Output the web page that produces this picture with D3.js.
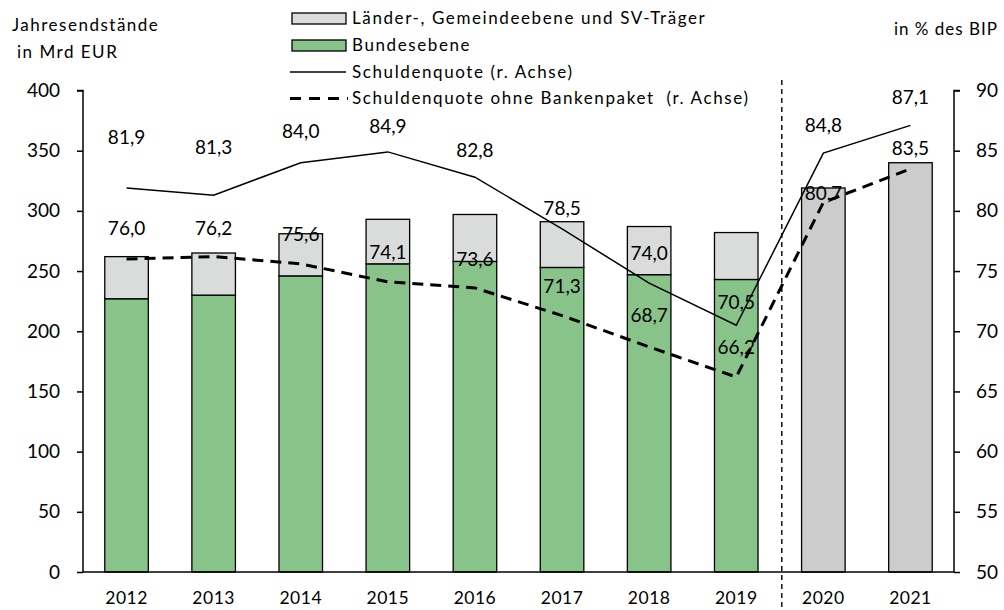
<!DOCTYPE html>
<html>
<head>
<meta charset="utf-8">
<script src="https://cdn.jsdelivr.net/npm/d3@7"></script>
<style>
  body { margin: 0; background: #fff; }
  svg text { font-family: Lato, "Open Sans", sans-serif; fill: #000; }
</style>
</head>
<body>
<div id="chart"></div>
<script>
// --- data ---
const years = ["2012", "2013", "2014", "2015", "2016", "2017", "2018", "2019", "2020", "2021"];
// Bundesebene (Mrd EUR), only up to 2019
const bund = [227, 230, 246, 256, 258, 253, 247, 243, null, null];
// Länder-, Gemeindeebene und SV-Träger (Mrd EUR)
const laender = [35, 35, 35, 37, 39, 38, 40, 39, null, null];
// total for the forecast years (grey bars)
const gesamtPrognose = [null, null, null, null, null, null, null, null, 319, 340];
// Schuldenquote (% des BIP)
const quote = [81.9, 81.3, 84.0, 84.9, 82.8, 78.5, 74.0, 70.5, 84.8, 87.1];
const quoteOhne = [76.0, 76.2, 75.6, 74.1, 73.6, 71.3, 68.7, 66.2, 80.7, 83.5];
const leftTicks = [0, 50, 100, 150, 200, 250, 300, 350, 400];
const rightTicks = [50, 55, 60, 65, 70, 75, 80, 85, 90];
const legendItems = [
  "Länder-, Gemeindeebene und SV-Träger",
  "Bundesebene",
  "Schuldenquote (r. Achse)",
  "Schuldenquote ohne Bankenpaket \u00a0(r. Achse)"
];

// label lift above the point, in px (layout only)
const quoteLift = [51, 48, 31, 26, 27, 21, 30, 23, 28, 28];
const ohneLift = [31, 28, 29, 30, 29, 29, 32, 30, 9, 20];

const width = 1004, height = 610;
const plot = { left: 83, right: 954, top: 90.5, bottom: 572 };
const col = { green: "#88c48a", light: "#d9dcdb", grey: "#cccccc" };

const svg = d3.select("#chart").append("svg")
  .attr("width", width).attr("height", height);

const x = d3.scaleBand().domain(years)
  .range([plot.left, plot.right]).paddingInner(0.5).paddingOuter(0.25);
const yL = d3.scaleLinear().domain([0, 400]).range([plot.bottom, plot.top]);
const yR = d3.scaleLinear().domain([50, 90]).range([plot.bottom, plot.top]);
const cx = d => x(d) + x.bandwidth() / 2;

// bars
const rows = years.map((y, i) => ({ year: y, bund: bund[i], laender: laender[i], prog: gesamtPrognose[i] }));
const bars = svg.append("g");
rows.filter(d => d.bund != null).forEach(d => {
  bars.append("rect")
    .attr("x", x(d.year)).attr("width", x.bandwidth())
    .attr("y", yL(d.bund)).attr("height", yL(0) - yL(d.bund))
    .attr("fill", col.green).attr("stroke", "#000").attr("stroke-width", 1.3);
  bars.append("rect")
    .attr("x", x(d.year)).attr("width", x.bandwidth())
    .attr("y", yL(d.bund + d.laender)).attr("height", yL(d.bund) - yL(d.bund + d.laender))
    .attr("fill", col.light).attr("stroke", "#000").attr("stroke-width", 1.3);
});
rows.filter(d => d.prog != null).forEach(d => {
  bars.append("rect")
    .attr("x", x(d.year)).attr("width", x.bandwidth())
    .attr("y", yL(d.prog)).attr("height", yL(0) - yL(d.prog))
    .attr("fill", col.grey).attr("stroke", "#000").attr("stroke-width", 1.3);
});

// separator between actual and forecast
const sepX = x("2020") - x.step() * x.paddingInner() / 2 + 2;
svg.append("line")
  .attr("x1", sepX).attr("x2", sepX).attr("y1", 80).attr("y2", height)
  .attr("stroke", "#000").attr("stroke-width", 1.4).attr("stroke-dasharray", "5,4");

// lines
const line = d3.line().x((d, i) => cx(years[i])).y(d => yR(d));
svg.append("path").datum(quote).attr("d", line)
  .attr("fill", "none").attr("stroke", "#000").attr("stroke-width", 1.5);
svg.append("path").datum(quoteOhne).attr("d", line)
  .attr("fill", "none").attr("stroke", "#000").attr("stroke-width", 3)
  .attr("stroke-dasharray", "11,7");

// data labels
const fmt = v => d3.format(".1f")(v).replace(".", ",");
const labels = svg.append("g").attr("font-size", 19).attr("text-anchor", "middle");
quote.forEach((v, i) => {
  labels.append("text").attr("x", cx(years[i])).attr("y", yR(v) - quoteLift[i])
    .attr("dy", "0.35em").text(fmt(v));
});
quoteOhne.forEach((v, i) => {
  labels.append("text").attr("x", cx(years[i])).attr("y", yR(v) - ohneLift[i])
    .attr("dy", "0.35em").text(fmt(v));
});

// axes
const axL = svg.append("g").attr("transform", `translate(${plot.left},0)`)
  .call(d3.axisLeft(yL).tickValues(leftTicks).tickSize(6).tickPadding(17));
const axR = svg.append("g").attr("transform", `translate(${plot.right},0)`)
  .call(d3.axisRight(yR).tickValues(rightTicks).tickSize(6).tickPadding(16));
const axX = svg.append("g").attr("transform", `translate(0,${plot.bottom})`)
  .call(d3.axisBottom(x).tickSize(0).tickPadding(20));
[axL, axR, axX].forEach(a => {
  a.select(".domain").attr("stroke", "#000").attr("stroke-width", 1.5);
  a.selectAll(".tick line").attr("stroke", "#000").attr("stroke-width", 1.5);
  a.selectAll("text").attr("font-family", "Lato, sans-serif").attr("font-size", 19).attr("fill", "#000");
});
axX.selectAll("text").attr("font-size", 17.5).attr("letter-spacing", 0.5);
axL.select(".domain").attr("d", `M-6,${plot.top}H0V${plot.bottom}`);
axR.select(".domain").attr("d", `M6,${plot.top}H0V${plot.bottom}`);
axX.select(".domain").attr("d", `M${plot.left},0H${plot.right}`);

// axis titles
const titles = svg.append("g").attr("font-size", 17).attr("letter-spacing", 1.5);
titles.append("text").attr("x", 12).attr("y", 31).text("Jahresendstände");
titles.append("text").attr("x", 17).attr("y", 58).text("in Mrd EUR");
titles.append("text").attr("x", 998).attr("y", 35).attr("text-anchor", "end")
  .attr("letter-spacing", 1).text("in % des BIP");

// legend
const lg = svg.append("g").attr("font-size", 17).attr("letter-spacing", 1.6);
const rowY = [18.5, 45.5, 72, 98.5];
lg.append("rect").attr("x", 292).attr("y", rowY[0] - 5.5).attr("width", 54).attr("height", 11)
  .attr("fill", col.light).attr("stroke", "#000").attr("stroke-width", 1.3);
lg.append("rect").attr("x", 292).attr("y", rowY[1] - 5.5).attr("width", 54).attr("height", 11)
  .attr("fill", col.green).attr("stroke", "#000").attr("stroke-width", 1.3);
lg.append("line").attr("x1", 290).attr("x2", 346).attr("y1", rowY[2]).attr("y2", rowY[2])
  .attr("stroke", "#000").attr("stroke-width", 1.5);
lg.append("line").attr("x1", 290).attr("x2", 348).attr("y1", rowY[3]).attr("y2", rowY[3])
  .attr("stroke", "#000").attr("stroke-width", 3).attr("stroke-dasharray", "11,8");
legendItems.forEach((t, i) => {
  lg.append("text").attr("x", 352).attr("y", rowY[i]).attr("dy", "0.35em").text(t);
});
</script>
</body>
</html>
